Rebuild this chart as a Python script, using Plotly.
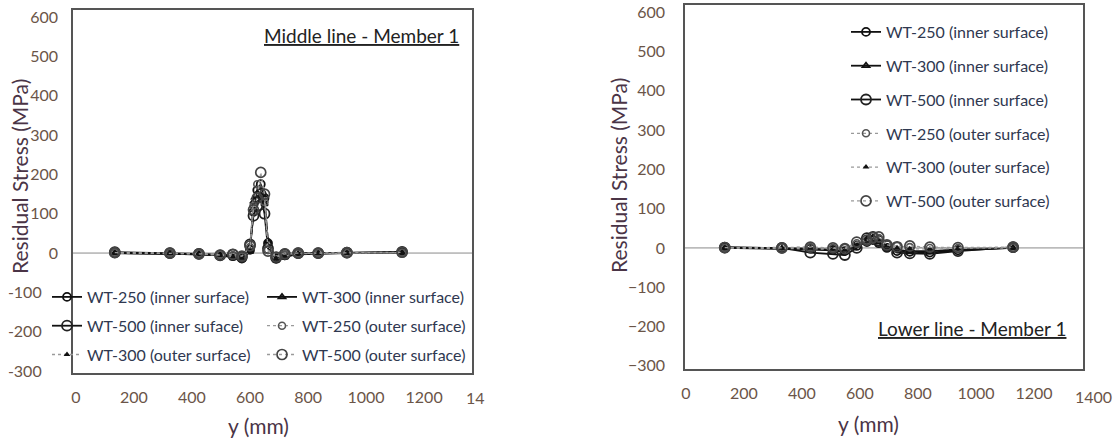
import plotly.graph_objects as go

W, H = 1116, 439

# ---------------- data: Middle line - Member 1 ----------------
x_mid = [134, 324, 424, 497, 541, 572, 600, 612, 625, 637, 650, 662, 690, 720, 766, 835, 934, 1124]
mid_wt250_in = [0, -2, -3, -6, -8, -14, 8, 105, 160, 175, 140, 25, -14, -6, -2, -1, 0, 2]
mid_wt300_in = [0, -1, -3, -5, -12, -16, 4, 130, 150, 145, 125, 30, -18, -10, -3, -1, 0, 1]
mid_wt500_in = [2, 0, -2, -6, -4, -10, 22, 95, 120, 150, 100, 12, -12, -3, 0, 0, 1, 3]
mid_wt250_out = [1, 0, -1, -4, -6, -9, 15, 120, 175, 160, 130, 8, -8, -4, -1, 0, 0, 1]
mid_wt300_out = [0, -1, -2, -5, -10, -13, 6, 140, 155, 150, 145, 33, -15, -8, -2, -1, 0, 1]
mid_wt500_out = [1, 0, -2, -5, -3, -8, 18, 110, 140, 205, 150, 5, -10, -2, 0, 0, 1, 2]

# ---------------- data: Lower line - Member 1 ----------------
x_low = [134, 331, 429, 507, 548, 589, 624, 645, 665, 693, 728, 772, 841, 938, 1128]
low_wt250_in = [2, 0, -2, -5, -8, 5, 15, 20, 12, 0, -8, -10, -12, -6, 0]
low_wt300_in = [0, -2, -4, -6, -10, 8, 22, 25, 15, 2, -5, -8, -8, -4, 0]
low_wt500_in = [1, 0, -12, -15, -18, 0, 25, 28, 18, 5, -12, -14, -15, -8, 2]
low_wt250_out = [0, 1, 2, 0, 0, 12, 18, 22, 25, 10, 5, 2, 0, 0, 1]
low_wt300_out = [0, -1, -1, -3, -5, 10, 25, 30, 20, 5, 0, -2, -3, -1, 0]
low_wt500_out = [1, 0, 2, 0, -2, 15, 20, 26, 28, 8, 3, 5, 2, 1, 2]

names_mid = ["WT-250 (inner surface)", "WT-300 (inner surface)", "WT-500 (inner suface)",
             "WT-250 (outer surface)", "WT-300 (outer surface)", "WT-500 (outer surface)"]
names_low = ["WT-250 (inner surface)", "WT-300 (inner surface)", "WT-500 (inner surface)",
             "WT-250 (outer surface)", "WT-300 (outer surface)", "WT-500 (outer surface)"]
x_ticks = [0, 200, 400, 600, 800, 1000, 1200]
y_ticks = [-300, -200, -100, 0, 100, 200, 300, 400, 500, 600]

FONT = "Lato, 'Open Sans', sans-serif"
TICK_COL = "#6b5548"
TITLE_COL = "#4a3446"
LEG_COL = "#2f3850"

solid = dict(color="#111111", width=1.8)
dotted = dict(color="#9a9a9a", width=1.3, dash="dot")
styles = [
    (solid, dict(symbol="circle-open", size=8, color="#111111", line=dict(width=1.8))),
    (solid, dict(symbol="triangle-up-open", size=6, color="#111111", line=dict(width=1.8))),
    (solid, dict(symbol="circle-open", size=10, color="#222222", line=dict(width=1.8))),
    (dotted, dict(symbol="circle-open", size=7, color="#555555", line=dict(width=1.6))),
    (dotted, dict(symbol="triangle-up", size=6, color="#111111")),
    (dotted, dict(symbol="circle-open", size=10, color="#444444", line=dict(width=1.7))),
]

fig = go.Figure()

mid_series = [mid_wt250_in, mid_wt300_in, mid_wt500_in, mid_wt250_out, mid_wt300_out, mid_wt500_out]
mid_legends = ["legend", "legend3", "legend", "legend3", "legend", "legend3"]
for i, ys in enumerate(mid_series):
    ln, mk = styles[i]
    fig.add_trace(go.Scatter(x=x_mid, y=ys, name=names_mid[i], mode="lines+markers",
                             line=ln, marker=mk, xaxis="x", yaxis="y",
                             legend=mid_legends[i], legendgroup="m%d" % i))

low_series = [low_wt250_in, low_wt300_in, low_wt500_in, low_wt250_out, low_wt300_out, low_wt500_out]
for i, ys in enumerate(low_series):
    ln, mk = styles[i]
    fig.add_trace(go.Scatter(x=x_low, y=ys, name=names_low[i], mode="lines+markers",
                             line=ln, marker=mk, xaxis="x2", yaxis="y2",
                             legend="legend2", legendgroup="l%d" % i))

def px(v):
    return v / W

def py(v):
    return 1 - v / H

# left-panel negative labels sit further left in the original scan
NB = "\u00a0"
y_ticktext_left = [str(v) + (NB * 4 if v < 0 else "") for v in y_ticks]

axis_common = dict(showgrid=False, showline=True, mirror=True, linecolor="#555555", linewidth=1.5,
                   ticks="", tickfont=dict(family=FONT, size=16, color=TICK_COL),
                   zeroline=False, automargin=False)

LEGFONT = dict(family=FONT, size=16, color=LEG_COL)
fig.update_layout(
    width=W, height=H, margin=dict(l=0, r=0, t=0, b=0, autoexpand=False),
    paper_bgcolor="white", plot_bgcolor="white",
    font=dict(family=FONT, color=LEG_COL),
    xaxis=dict(domain=[px(73), px(472)], range=[-10, 1365], tickvals=x_ticks,
               ticklabelstandoff=9, anchor="y", **axis_common),
    yaxis=dict(domain=[py(373), py(10)], range=[-305, 618], tickvals=y_ticks,
               ticktext=y_ticktext_left, ticklabelstandoff=10, anchor="x", **axis_common),
    xaxis2=dict(domain=[px(685), px(1083)], range=[-3, 1369], tickvals=x_ticks,
                ticklabelstandoff=9, anchor="y2", **axis_common),
    yaxis2=dict(domain=[py(369), py(5)], range=[-308, 618], tickvals=y_ticks,
                ticklabelstandoff=15, anchor="x2", **axis_common),
    legend=dict(x=px(47), y=py(280), xanchor="left", yanchor="top", bgcolor="rgba(255,255,255,0)",
                font=LEGFONT, tracegroupgap=5, itemsizing="trace"),
    legend3=dict(x=px(262), y=py(280), xanchor="left", yanchor="top", bgcolor="rgba(255,255,255,0)",
                 font=LEGFONT, tracegroupgap=5, itemsizing="trace"),
    legend2=dict(x=px(846), y=py(15), xanchor="left", yanchor="top", bgcolor="rgba(255,255,255,0)",
                 font=LEGFONT, tracegroupgap=10, itemsizing="trace"),
    showlegend=True,
)

# zero reference lines
fig.add_shape(type="line", xref="x domain", yref="y", x0=0, x1=1, y0=0, y1=0,
              line=dict(color="#8a8a8a", width=1), layer="below")
fig.add_shape(type="line", xref="x2 domain", yref="y2", x0=0, x1=1, y0=0, y1=0,
              line=dict(color="#8a8a8a", width=1), layer="below")

annots = [
    dict(text="<u>Middle line - Member 1</u>", x=px(461), y=py(35), xanchor="right", yanchor="middle",
         font=dict(family=FONT, size=19, color="#222222")),
    dict(text="<u>Lower line - Member 1</u>", x=px(1068), y=py(328), xanchor="right", yanchor="middle",
         font=dict(family=FONT, size=19, color="#222222")),
    dict(text="Residual Stress (MPa)", x=px(20), y=py(177), textangle=-90, xanchor="center", yanchor="middle",
         font=dict(family=FONT, size=21, color=TITLE_COL)),
    dict(text="Residual Stress (MPa)", x=px(618), y=py(176), textangle=-90, xanchor="center", yanchor="middle",
         font=dict(family=FONT, size=21, color=TITLE_COL)),
    dict(text="y (mm)", x=px(258), y=py(425), xanchor="center", yanchor="middle",
         font=dict(family=FONT, size=21, color=TITLE_COL)),
    dict(text="y (mm)", x=px(868), y=py(423), xanchor="center", yanchor="middle",
         font=dict(family=FONT, size=21, color=TITLE_COL)),
    dict(text="14", x=px(464), y=py(397), xanchor="left", yanchor="middle",
         font=dict(family=FONT, size=16, color=TICK_COL)),
    dict(text="1400", x=px(1093), y=py(396), xanchor="center", yanchor="middle",
         font=dict(family=FONT, size=16, color=TICK_COL)),
]
for a in annots:
    fig.add_annotation(xref="paper", yref="paper", showarrow=False, **a)

fig.write_html("out.html", config={"displayModeBar": False},
               post_script="document.body.style.margin='0px';document.body.style.overflow='hidden';")
